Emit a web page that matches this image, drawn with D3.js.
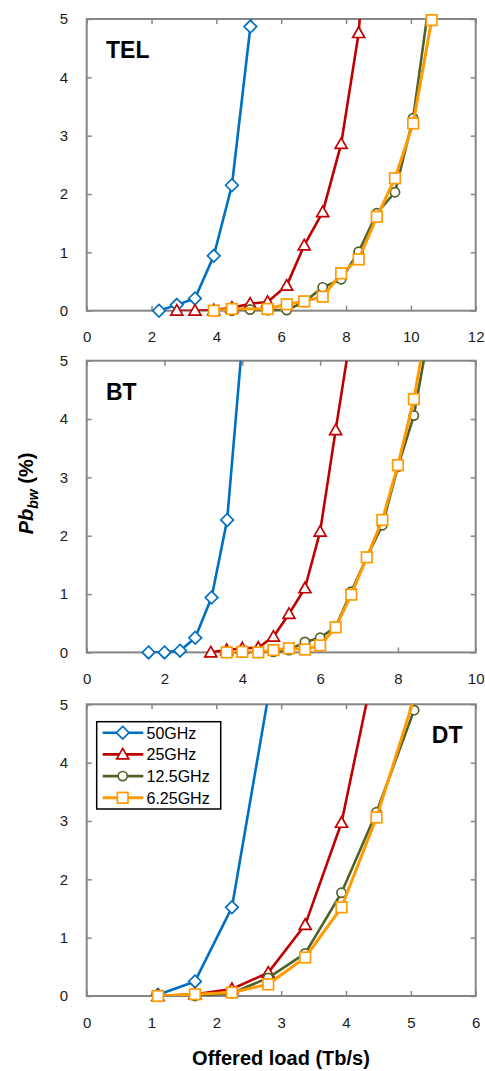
<!DOCTYPE html>
<html>
<head>
<meta charset="utf-8">
<script src="https://cdn.jsdelivr.net/npm/d3@7/dist/d3.min.js"></script>
<style>
  body { margin: 0; background: #fff; }
  svg text { font-family: "Liberation Sans", Arial, sans-serif; }
</style>
</head>
<body>
<div id="chart"></div>
<script>
// series + panel names
var seriesNames = ["50GHz", "25GHz", "12.5GHz", "6.25GHz"];
var panelNames = ["TEL", "BT", "DT"];
var xMaxes = [12, 10, 6];
var yTicks = [0, 1, 2, 3, 4, 5];

// TEL
var telX50 = [2.23, 2.78, 3.34, 3.92, 4.48, 5.05, 5.6];
var telY50 = [0, 0.10, 0.21, 0.94, 2.15, 4.87, 9.0];
var telX25 = [2.78, 3.34, 3.92, 4.48, 5.04, 5.58, 6.17, 6.71, 7.28, 7.85, 8.39, 8.95];
var telY25 = [0, 0, 0.01, 0.05, 0.12, 0.15, 0.43, 1.12, 1.69, 2.86, 4.76, 9.0];
var telX125 = [4.48, 5.04, 5.58, 6.17, 6.71, 7.28, 7.85, 8.39, 8.95, 9.51, 10.07, 10.64];
var telY125 = [0, 0.02, 0.01, 0.01, 0.15, 0.40, 0.54, 1.01, 1.67, 2.03, 3.30, 5.6];
var telX625 = [3.92, 4.48, 5.58, 6.17, 6.71, 7.28, 7.85, 8.39, 8.95, 9.51, 10.07, 10.64];
var telY625 = [0, 0.03, 0.03, 0.11, 0.16, 0.24, 0.64, 0.88, 1.61, 2.27, 3.21, 4.98];

// BT
var btX50 = [1.59, 2.0, 2.4, 2.79, 3.21, 3.61, 4.01];
var btY50 = [0, 0, 0.03, 0.25, 0.94, 2.27, 5.4];
var btX25 = [3.19, 3.6, 4.0, 4.41, 4.8, 5.2, 5.61, 6.0, 6.4, 6.8];
var btY25 = [0, 0.04, 0.07, 0.08, 0.27, 0.66, 1.10, 2.07, 3.81, 5.5];
var btX125 = [4.0, 4.41, 4.8, 5.2, 5.61, 6.0, 6.4, 6.8, 7.2, 7.6, 8.0, 8.41, 8.8];
var btY125 = [0, 0, 0.01, 0.04, 0.18, 0.25, 0.44, 1.04, 1.63, 2.18, 3.18, 4.06, 5.5];
var btX625 = [3.6, 4.0, 4.41, 4.8, 5.2, 5.61, 6.0, 6.4, 6.8, 7.2, 7.6, 8.0, 8.41, 8.8];
var btY625 = [0, 0.01, 0, 0.04, 0.07, 0.05, 0.12, 0.43, 0.99, 1.63, 2.27, 3.21, 4.34, 5.8];

// DT
var dtX50 = [1.1, 1.67, 2.24, 2.81];
var dtY50 = [0.02, 0.25, 1.52, 5.2];
var dtX25 = [1.1, 1.67, 2.24, 2.8, 3.37, 3.93, 4.5];
var dtY25 = [0, 0.03, 0.12, 0.40, 1.22, 2.97, 6.0];
var dtX125 = [1.1, 1.67, 2.24, 2.8, 3.37, 3.93, 4.47, 5.05];
var dtY125 = [0, 0, 0.05, 0.31, 0.73, 1.77, 3.15, 4.90];
var dtX625 = [1.1, 1.67, 2.24, 2.8, 3.37, 3.93, 4.47, 5.05];
var dtY625 = [0, 0.03, 0.06, 0.20, 0.66, 1.52, 3.06, 5.1];

var panelData = [
  [[telX50, telY50], [telX25, telY25], [telX125, telY125], [telX625, telY625]],
  [[btX50, btY50], [btX25, btY25], [btX125, btY125], [btX625, btY625]],
  [[dtX50, dtY50], [dtX25, dtY25], [dtX125, dtY125], [dtX625, dtY625]]
];

var colors = ["#0070C0", "#C00000", "#4F6228", "#FF9A00"];
var lineWidths = [2.6, 2.6, 2.6, 3];
var markerTypes = ["diamond", "triangle", "circle", "square"];

var width = 485, height = 1071;
var left = 86.7, right = 475.7, plotH = 291.7;
var tops = [19, 360.7, 704.3];
var frameColor = "#868686";

var svg = d3.select("#chart").append("svg")
  .attr("width", width)
  .attr("height", height);

function drawMarker(g, type, color) {
  if (type == "diamond") {
    g.append("path").attr("d", "M0,-6.3L6.3,0L0,6.3L-6.3,0Z");
  } else if (type == "triangle") {
    g.append("path").attr("d", "M0,-6L6,4.5L-6,4.5Z");
  } else if (type == "circle") {
    g.append("circle").attr("r", 4.6);
  } else {
    g.append("rect").attr("x", -5.3).attr("y", -5.3).attr("width", 10.6).attr("height", 10.6);
  }
  g.selectAll("*")
    .attr("fill", "#fff")
    .attr("stroke", color)
    .attr("stroke-width", 1.7);
}

panelNames.forEach(function(name, p) {
  var top = tops[p];
  var x = d3.scaleLinear().domain([0, xMaxes[p]]).range([left, right]);
  var y = d3.scaleLinear().domain([0, 5]).range([top + plotH, top]);

  var g = svg.append("g");

  // clip for the lines
  g.append("clipPath").attr("id", "clip" + p)
    .append("rect")
    .attr("x", left).attr("y", top)
    .attr("width", right - left).attr("height", plotH);

  // inner ticks on all four sides
  var xTickVals = d3.range(0, xMaxes[p] + 0.001, xMaxes[p] == 6 ? 1 : 2);
  var fmt = d3.format("d");
  var axes = [
    g.append("g").attr("transform", "translate(0," + (top + plotH) + ")")
      .call(d3.axisBottom(x).tickValues(xTickVals).tickFormat(fmt).tickSize(-5).tickPadding(21)),
    g.append("g").attr("transform", "translate(0," + top + ")")
      .call(d3.axisTop(x).tickValues(xTickVals).tickSize(-5).tickFormat("")),
    g.append("g").attr("transform", "translate(" + left + ",0)")
      .call(d3.axisLeft(y).tickValues(yTicks).tickFormat(fmt).tickSize(-5).tickPadding(18.5)),
    g.append("g").attr("transform", "translate(" + right + ",0)")
      .call(d3.axisRight(y).tickValues(yTicks).tickSize(-5).tickFormat(""))
  ];
  axes.forEach(function(a) {
    a.select(".domain").remove();
    a.selectAll("line").attr("stroke", frameColor).attr("stroke-width", 1.5);
    a.selectAll("text").attr("font-size", 15).attr("fill", "#1a1a1a")
      .attr("font-family", "Liberation Sans, Arial, sans-serif");
  });

  // frame
  g.append("rect")
    .attr("x", left).attr("y", top)
    .attr("width", right - left).attr("height", plotH)
    .attr("fill", "none")
    .attr("stroke", frameColor)
    .attr("stroke-width", 2);

  var line = d3.line()
    .x(function(d) { return x(d[0]); })
    .y(function(d) { return y(d[1]); });

  panelData[p].forEach(function(s, i) {
    var pts = s[0].map(function(v, k) { return [v, s[1][k]]; });
    g.append("path")
      .datum(pts)
      .attr("clip-path", "url(#clip" + p + ")")
      .attr("fill", "none")
      .attr("stroke", colors[i])
      .attr("stroke-width", lineWidths[i])
      .attr("stroke-linejoin", "round")
      .attr("d", line);

    pts.filter(function(d) { return d[1] <= 5.01; }).forEach(function(d) {
      var m = g.append("g").attr("transform", "translate(" + x(d[0]) + "," + y(d[1]) + ")");
      drawMarker(m, markerTypes[i], colors[i]);
    });
  });

  // panel label
  var lab = g.append("text")
    .attr("y", top + 39)
    .attr("font-size", 23)
    .attr("font-weight", "bold")
    .attr("fill", "#000")
    .text(name);
  if (name == "DT") {
    lab.attr("x", 462.5).attr("text-anchor", "end");
  } else {
    lab.attr("x", 106);
  }
});

// legend inside DT panel
var legend = svg.append("g");
legend.append("rect")
  .attr("x", 96.7).attr("y", 721.7)
  .attr("width", 124).attr("height", 87.3)
  .attr("fill", "#fff")
  .attr("stroke", "#000")
  .attr("stroke-width", 1.5);
seriesNames.forEach(function(n, i) {
  var ly = 732.7 + i * 21.7;
  legend.append("line")
    .attr("x1", 102.7).attr("x2", 143.3)
    .attr("y1", ly).attr("y2", ly)
    .attr("stroke", colors[i])
    .attr("stroke-width", lineWidths[i]);
  var m = legend.append("g").attr("transform", "translate(122.7," + ly + ")");
  drawMarker(m, markerTypes[i], colors[i]);
  legend.append("text")
    .attr("x", 146.5).attr("y", ly + 5.8)
    .attr("font-size", 16)
    .attr("fill", "#000")
    .text(n);
});

// axis titles
svg.append("text")
  .attr("x", 281).attr("y", 1065)
  .attr("text-anchor", "middle")
  .attr("font-size", 20)
  .attr("font-weight", "bold")
  .text("Offered load (Tb/s)");

var yt = svg.append("text")
  .attr("transform", "translate(33,493.5) rotate(-90)")
  .attr("text-anchor", "middle")
  .attr("font-size", 20)
  .attr("font-weight", "bold");
yt.append("tspan").attr("font-style", "italic").text("Pb");
yt.append("tspan").attr("font-style", "italic").attr("font-size", 14).attr("dy", 5).text("bw");
yt.append("tspan").attr("dy", -5).text(" (%)");
</script>
</body>
</html>
